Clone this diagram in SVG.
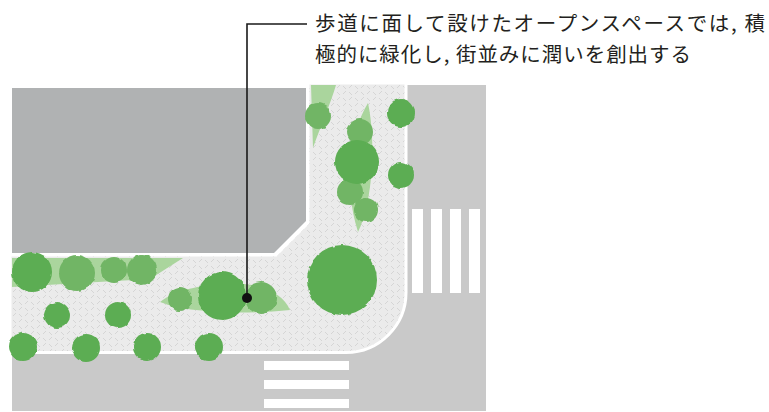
<svg xmlns="http://www.w3.org/2000/svg" width="769" height="412" viewBox="0 0 769 412">
  <defs>
    <style>
      .road { fill: #c9c9c9; }
      .zebra { fill: #ffffff; }
      .bldg { fill: #b0b2b3; }
      .walk { fill: url(#paving); stroke: #ffffff; stroke-width: 3; }
      .bed { fill: #aad59d; }
      .dark { fill: #5cad52; filter: url(#rough); }
      .mid { fill: #71b565; filter: url(#rough); }
      .lead { fill: none; stroke: #1a1a1a; stroke-width: 1.6; }
      .label { font-family: "Noto Sans CJK JP", "Noto Sans", sans-serif; font-size: 20.5px; fill: #231f20; }
    </style>
    <!-- interlocking paving texture -->
    <pattern id="paving" width="12" height="12" patternUnits="userSpaceOnUse">
      <rect width="12" height="12" fill="#ebebeb"/>
      <path d="M1,4 L4,1 M7,10 L10,7 M7,2 L10,5 M1,8 L4,11" stroke="#d5d5d5" stroke-width="1" fill="none"/>
    </pattern>
    <!-- scalloped canopy edge -->
    <filter id="rough" x="-20%" y="-20%" width="140%" height="140%">
      <feTurbulence type="fractalNoise" baseFrequency="0.13" numOctaves="1" seed="4" result="n"/>
      <feDisplacementMap in="SourceGraphic" in2="n" scale="3.5" xChannelSelector="R" yChannelSelector="G"/>
    </filter>
  </defs>

  <!-- carriageways -->
  <g id="roads">
    <rect class="road" x="405" y="85" width="81" height="326"/>
    <rect class="road" x="12" y="300" width="474" height="111"/>
  </g>

  <!-- pedestrian crossings -->
  <g id="crossings">
    <rect class="zebra" x="412" y="209" width="11" height="84"/>
    <rect class="zebra" x="431" y="209" width="11" height="84"/>
    <rect class="zebra" x="450" y="209" width="11" height="84"/>
    <rect class="zebra" x="469" y="209" width="11" height="84"/>
    <rect class="zebra" x="264" y="361" width="85" height="9"/>
    <rect class="zebra" x="264" y="380" width="85" height="9"/>
    <rect class="zebra" x="264" y="399" width="85" height="9"/>
  </g>

  <!-- L-shaped sidewalk / open space -->
  <g id="sidewalk">
    <path class="walk" d="M10,255 H276 L308,223 V83 H406 V292 A60,60 0 0 1 346,352.5 H10 Z"/>
  </g>

  <!-- building -->
  <g id="building">
    <path class="bldg" d="M12,88 H306 V221 L274,253 H12 Z"/>
  </g>

  <!-- planting beds -->
  <g id="beds">
    <path class="bed" d="M12,258 H183 L150,279 L12,287 Z"/>
    <path class="bed" d="M160,302 C176,289 203,284 240,284 C266,284 284,296 290,310 C250,314 190,314 160,302 Z"/>
    <path class="bed" d="M368,103 C350,132 343,185 358,232 C373,202 376,140 368,103 Z"/>
    <path class="bed" d="M311,85 H336 C330,105 320,128 313,148 Z"/>
  </g>

  <!-- trees -->
  <g id="trees">
    <circle class="mid" cx="77" cy="273" r="18"/>
    <circle class="mid" cx="114" cy="270" r="13"/>
    <circle class="mid" cx="142" cy="270" r="15"/>
    <circle class="dark" cx="32" cy="272" r="20"/>
    <circle class="dark" cx="57" cy="315" r="13"/>
    <circle class="dark" cx="118" cy="315" r="13"/>
    <circle class="dark" cx="23" cy="347" r="14"/>
    <circle class="dark" cx="86" cy="348" r="14"/>
    <circle class="dark" cx="147" cy="347" r="14"/>
    <circle class="dark" cx="209" cy="347" r="14"/>

    <circle class="mid" cx="180" cy="299" r="12"/>
    <circle class="mid" cx="261" cy="298" r="16"/>
    <circle class="dark" cx="222" cy="296" r="24"/>

    <circle class="mid" cx="318" cy="116" r="13"/>
    <circle class="mid" cx="360" cy="132" r="13"/>
    <circle class="mid" cx="350" cy="192" r="13"/>
    <circle class="dark" cx="357" cy="162" r="22"/>
    <circle class="mid" cx="366" cy="210" r="12"/>
    <circle class="dark" cx="401" cy="113" r="14"/>
    <circle class="dark" cx="401" cy="175" r="13"/>
    <circle class="dark" cx="342" cy="280" r="35"/>
  </g>

  <!-- callout leader -->
  <g id="connectors">
    <path class="lead" d="M247,298 V24 H307"/>
    <circle cx="247" cy="298" r="5" fill="#111111"/>
  </g>

  <g id="callout">
    <text class="label" x="315" y="31" textLength="450" lengthAdjust="spacing">歩道に面して設けたオープンスペースでは, 積</text>
    <text class="label" x="315" y="62" textLength="376" lengthAdjust="spacing">極的に緑化し, 街並みに潤いを創出する</text>
  </g>
</svg>
